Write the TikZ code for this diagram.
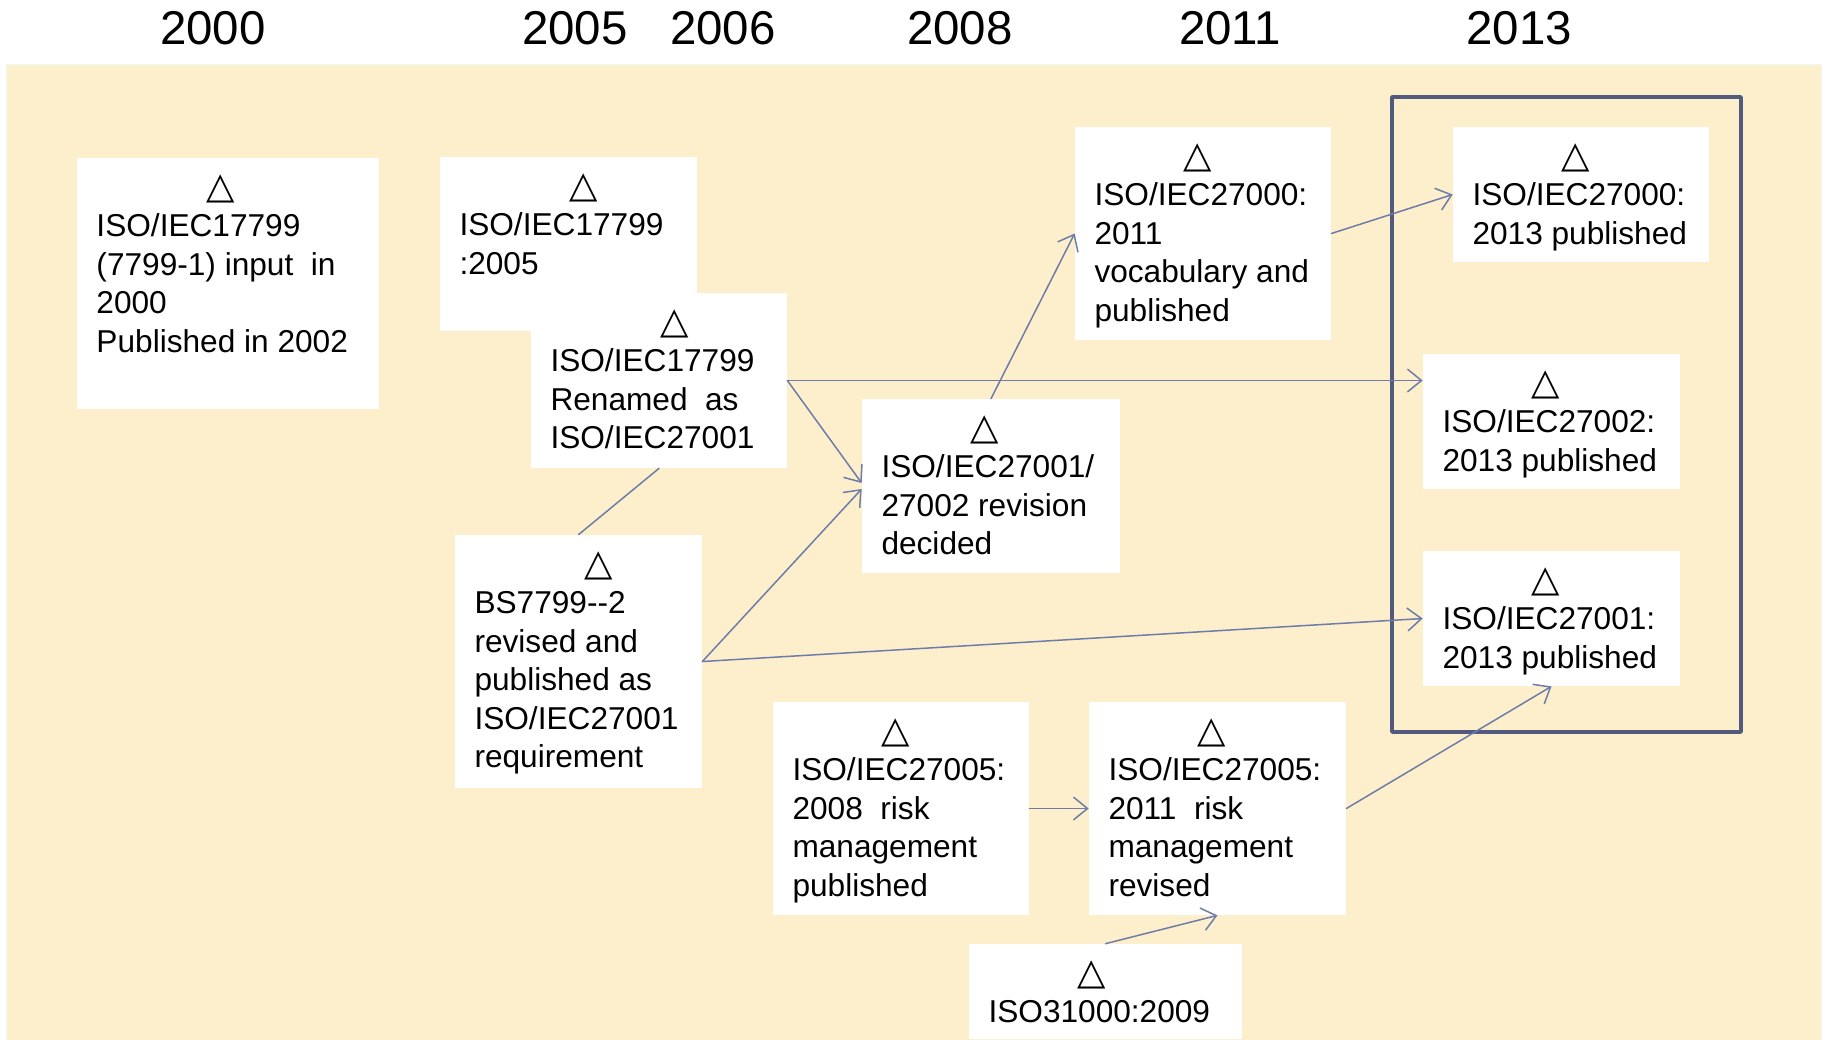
\documentclass[tikz,border=0pt]{standalone}
\usepackage{fontspec}
\setmainfont{Liberation Sans}
\newfontfamily\trifont{DejaVu Sans}
\usepackage{tikz}
\usetikzlibrary{arrows.meta}
\usetikzlibrary{fit}
\definecolor{bgyellow}{RGB}{253,239,203}
\definecolor{bgedge}{RGB}{243,244,226}
\definecolor{linkblue}{RGB}{110,124,170}
\definecolor{framegray}{RGB}{82,90,125}

\begin{document}
\begin{tikzpicture}[line cap=round,line join=round,x=0.02cm,y=-0.02cm,
  >={Straight Barb[length=8pt,width=13pt]},
  box/.style={fill=white,inner sep=0pt},
  txt/.style={anchor=north west,align=left,inner xsep=0.39cm,inner ysep=0pt,
    font=\fontsize{18pt}{21.86pt}\selectfont},
  year/.style={anchor=base,font=\fontsize{27pt}{32pt}\selectfont},
  link/.style={->,color=linkblue,line width=0.85pt}]
\useasboundingbox (0,0) rectangle (1825,1039);
\draw[fill=bgyellow,draw=bgedge,line width=1.5pt] (7,65) rectangle (1821,1045);
% years
\node[year] (y2000) at (213,44) {2000};
\node[year] (y2005) at (575,44) {2005};
\node[year] (y2006) at (723,44) {2006};
\node[year] (y2008) at (960,44) {2008};
\node[year] (y2011) at (1230,44) {2011};
\node[year] (y2013) at (1519,44) {2013};
% frame round the 2013 results
\draw[framegray,line width=2pt,line cap=butt] (1392,97) rectangle (1741,732);
% boxes
\node[box,fit={(77,158) (379,409)}] (A) {};
\node[txt] (tA) at (A.north west) {\rule{0pt}{0.81cm}\hspace*{2.21cm}{\trifont\fontsize{21pt}{21.86pt}\selectfont △}\\
  ISO/IEC17799\\(7799-1) input\ \ in\\2000\\Published in 2002};
\node[box,fit={(440,157) (697,331)}] (B) {};
\node[txt] (tB) at (B.north west) {\rule{0pt}{0.81cm}\hspace*{2.21cm}{\trifont\fontsize{21pt}{21.86pt}\selectfont △}\\
  ISO/IEC17799\\:2005};
\node[box,fit={(531,293) (787,468)}] (C) {};
\node[txt] (tC) at (C.north west) {\rule{0pt}{0.81cm}\hspace*{2.21cm}{\trifont\fontsize{21pt}{21.86pt}\selectfont △}\\
  ISO/IEC17799\\Renamed\ \ as\\ISO/IEC27001};
\node[box,fit={(455,535) (702,788)}] (D) {};
\node[txt] (tD) at (D.north west) {\rule{0pt}{0.81cm}\hspace*{2.21cm}{\trifont\fontsize{21pt}{21.86pt}\selectfont △}\\
  BS7799-{}-2\\revised and\\published as\\ISO/IEC27001\\requirement};
\node[box,fit={(862,399) (1120,573)}] (E) {};
\node[txt] (tE) at (E.north west) {\rule{0pt}{0.81cm}\hspace*{1.79cm}{\trifont\fontsize{21pt}{21.86pt}\selectfont △}\\
  ISO/IEC27001/\\27002 revision\\decided};
\node[box,fit={(1075,127) (1331,340)}] (F) {};
\node[txt] (tF) at (F.north west) {\rule{0pt}{0.81cm}\hspace*{1.79cm}{\trifont\fontsize{21pt}{21.86pt}\selectfont △}\\
  ISO/IEC27000:\\2011\\vocabulary and\\published};
\node[box,fit={(1453,127) (1709,262)}] (G) {};
\node[txt] (tG) at (G.north west) {\rule{0pt}{0.81cm}\hspace*{1.79cm}{\trifont\fontsize{21pt}{21.86pt}\selectfont △}\\
  ISO/IEC27000:\\2013 published};
\node[box,fit={(1423,354) (1680,489)}] (H) {};
\node[txt] (tH) at (H.north west) {\rule{0pt}{0.81cm}\hspace*{1.79cm}{\trifont\fontsize{21pt}{21.86pt}\selectfont △}\\
  ISO/IEC27002:\\2013 published};
\node[box,fit={(1423,551) (1680,686)}] (I) {};
\node[txt] (tI) at (I.north west) {\rule{0pt}{0.81cm}\hspace*{1.79cm}{\trifont\fontsize{21pt}{21.86pt}\selectfont △}\\
  ISO/IEC27001:\\2013 published};
\node[box,fit={(773,702) (1029,915)}] (J) {};
\node[txt] (tJ) at (J.north west) {\rule{0pt}{0.81cm}\hspace*{1.79cm}{\trifont\fontsize{21pt}{21.86pt}\selectfont △}\\
  ISO/IEC27005:\\2008\ \ risk\\management\\published};
\node[box,fit={(1089,702) (1346,915)}] (K) {};
\node[txt] (tK) at (K.north west) {\rule{0pt}{0.81cm}\hspace*{1.79cm}{\trifont\fontsize{21pt}{21.86pt}\selectfont △}\\
  ISO/IEC27005:\\2011\ \ risk\\management\\revised};
\node[box,fit={(969,944) (1242,1039)}] (L) {};
\node[txt] (tL) at (L.north west) {\rule{0pt}{0.81cm}\hspace*{1.79cm}{\trifont\fontsize{21pt}{21.86pt}\selectfont △}\\
  ISO31000:2009};
% links
\draw[link] (C.east) -- (C.east -| H.west);
\draw[link] (C.east) -- ([yshift=0.06cm]E.west);
\draw[link] (D.east) -- ([yshift=-0.06cm]E.west);
\draw[link] (D.east) -- (I.west);
\draw[link,-] (C.south) -- (D.north);
\draw[link] (E.north) -- (F.west);
\draw[link] (F.east) -- (G.west);
\draw[link] (J.east) -- (K.west);
\draw[link] (L.north) -- (K.south);
\draw[link] (K.east) -- (I.south);
\end{tikzpicture}
\end{document}
